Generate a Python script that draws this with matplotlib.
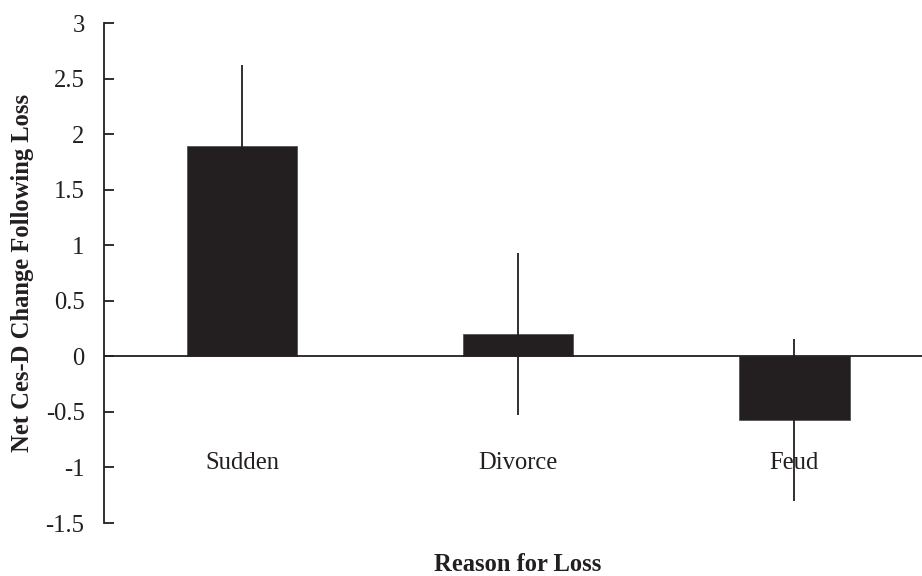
import matplotlib
matplotlib.use("Agg")
import matplotlib.pyplot as plt
from matplotlib.ticker import FuncFormatter, MultipleLocator

plt.rcParams['font.family'] = ['Liberation Serif', 'DejaVu Serif']
plt.rcParams['axes.unicode_minus'] = False

categories = ["Sudden", "Divorce", "Feud"]
means = [1.89, 0.20, -0.57]
errors = [0.73, 0.73, 0.73]

ink = "#231f20"
fs = 17.7

fig = plt.figure(figsize=(9.22, 5.76), dpi=100)
ax = fig.add_axes([0.1128, 0.092, 0.8986, 0.868])

x = list(range(len(categories)))
ax.bar(x, means, width=0.40, color=ink, edgecolor="#555555", linewidth=0.6, zorder=2)
ax.errorbar(x, means, yerr=errors, fmt='none', ecolor=ink, elinewidth=1.3,
            capsize=0, zorder=4)
ax.axhline(0, color=ink, linewidth=1.3, zorder=3)

ax.set_xlim(-0.5, 2.5)
ax.set_ylim(-1.5, 3)
ax.yaxis.set_major_locator(MultipleLocator(0.5))
ax.yaxis.set_major_formatter(FuncFormatter(lambda v, p: f"{v:g}"))
ax.set_xticks([])

for side in ("top", "right", "bottom"):
    ax.spines[side].set_visible(False)
ax.spines["left"].set_color(ink)
ax.spines["left"].set_linewidth(1.3)
ax.tick_params(axis='y', direction='in', length=7, width=1.3, color=ink,
               labelsize=fs, labelcolor=ink, pad=14)

for xi, name in zip(x, categories):
    ax.text(xi, -0.96, name, ha='center', va='center', fontsize=fs, color=ink, zorder=3)

ax.set_ylabel("Net Ces-D Change Following Loss", fontsize=fs, fontweight='bold',
              color=ink, labelpad=8)
fig.text(518 / 922, 1 - 571 / 576, "Reason for Loss", ha='center', va='baseline',
         fontsize=fs, fontweight='bold', color=ink)

fig.savefig("out.png", dpi=100)
